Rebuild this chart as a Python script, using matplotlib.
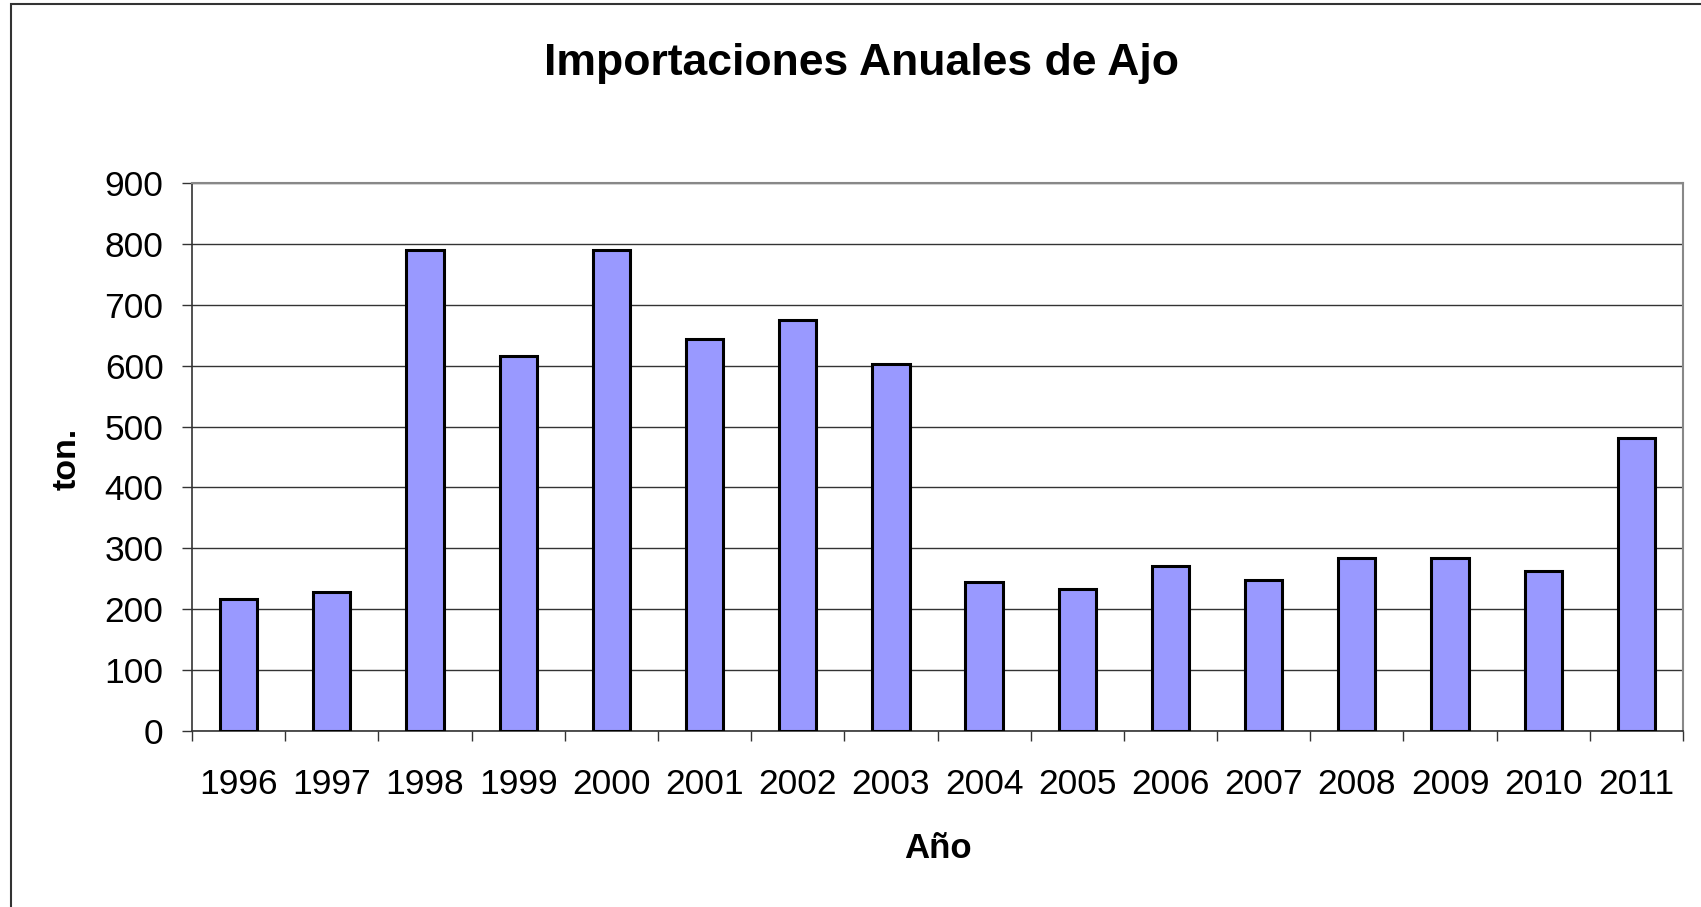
import matplotlib
matplotlib.use("Agg")
import matplotlib.pyplot as plt
import numpy as np
from matplotlib.patches import Rectangle

years = ["1996", "1997", "1998", "1999", "2000", "2001", "2002", "2003",
         "2004", "2005", "2006", "2007", "2008", "2009", "2010", "2011"]
tons = [216, 229, 790, 616, 790, 643, 675, 602,
        244, 234, 271, 248, 284, 284, 262, 482]
yticks = [0, 100, 200, 300, 400, 500, 600, 700, 800, 900]

plt.rcParams['font.family'] = ['Liberation Sans', 'DejaVu Sans']

W, H = 1701, 907
fig = plt.figure(figsize=(W / 100, H / 100), dpi=100)
fig.patch.set_facecolor('white')

# plot area in pixels: left 192, right 1683, top 183, bottom 731
ax = fig.add_axes([192 / W, 1 - 731 / H, (1683 - 192) / W, (731 - 183) / H])

x = np.arange(len(years))
ax.bar(x, tons, width=0.40, color='#9999FF', edgecolor='black', linewidth=2.2, zorder=3)

ax.set_xlim(-0.5, len(years) - 0.5)
ax.set_ylim(0, 900)
ax.set_yticks(yticks)
ax.yaxis.grid(True, color='#333333', linewidth=1.0, zorder=0)

ax.set_xticks(x)
ax.set_xticklabels(years)
ax.set_xticks(np.arange(-0.5, len(years), 1.0), minor=True)
ax.tick_params(axis='x', which='major', length=0, labelsize=25.5, pad=27)
ax.tick_params(axis='x', which='minor', length=7.5, width=1, color='#333333', direction='out')
ax.tick_params(axis='y', length=7.5, width=1, color='#333333', labelsize=25.5, pad=13)

for s in ['top', 'right']:
    ax.spines[s].set_color('#888888')
    ax.spines[s].set_linewidth(1.5)
for s in ['left', 'bottom']:
    ax.spines[s].set_color('#333333')
    ax.spines[s].set_linewidth(1.2)

fig.text(67 / W, 1 - 459 / H, 'ton.', rotation=90, fontsize=24.5, fontweight='bold',
         ha='center', va='center')
fig.text(938 / W, 1 - 848 / H, 'Año', fontsize=25, fontweight='bold',
         ha='center', va='center')
fig.text(861 / W, 1 - 64 / H, 'Importaciones Anuales de Ajo', fontsize=32,
         fontweight='bold', ha='center', va='center')

# outer chart border (runs past the right and bottom edges)
fig.patches.append(Rectangle((11 / W, -0.05), 1.2, 1 - 4 / H + 0.05,
                             transform=fig.transFigure, fill=False,
                             edgecolor='#333333', linewidth=1.5))

fig.savefig('out.png', dpi=100, facecolor='white')
